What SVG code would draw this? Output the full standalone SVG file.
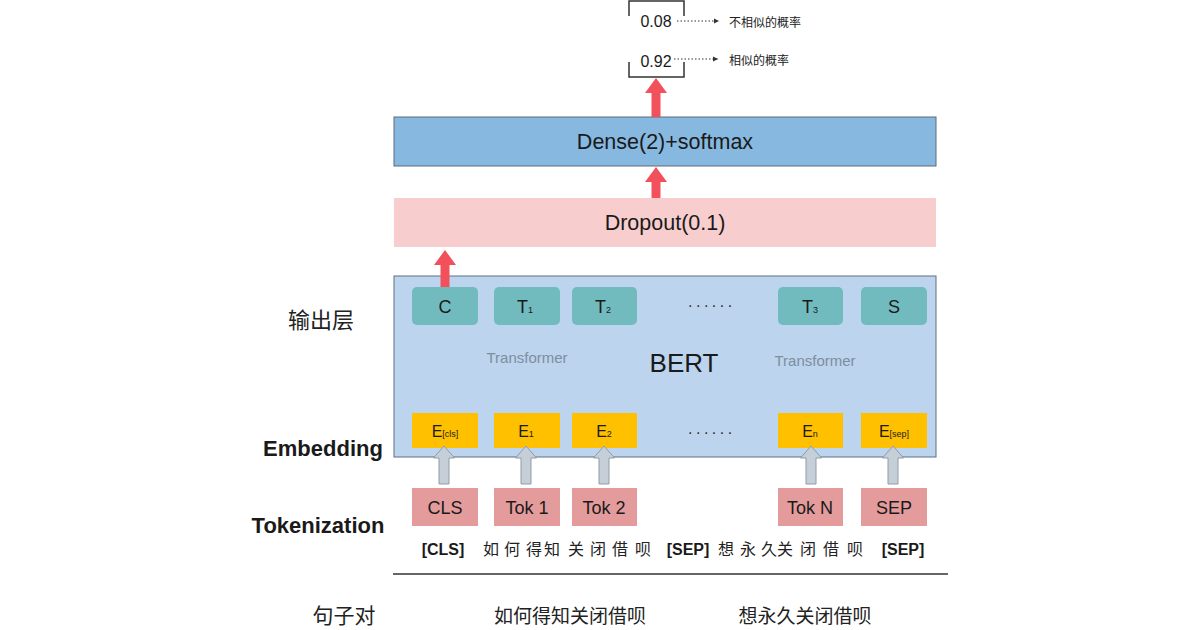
<svg xmlns="http://www.w3.org/2000/svg" width="1200" height="630" viewBox="0 0 1200 630">
<defs>
<style>
.en{font-family:"Liberation Sans",Arial,sans-serif;fill:#1a1a1a}
.cn{font-family:"Noto Sans CJK SC",sans-serif;fill:#222}
.tbox{fill:#71bbbf}
.ebox{fill:#ffc000}
.kbox{fill:#e49b9b}
.red{fill:#f2505a}
.gray{fill:#c6cfd7;stroke:#8e9ca8;stroke-width:1}
.dot{stroke:#333;stroke-width:1;stroke-dasharray:1.5 2;fill:none}
.brk{stroke:#333;stroke-width:1.5;fill:none}
.ell{font-family:"Liberation Sans",Arial,sans-serif;fill:#333;font-size:16px;letter-spacing:3.5px}
</style>
<marker id="ah" markerWidth="6" markerHeight="6" refX="5" refY="3" orient="auto" markerUnits="userSpaceOnUse">
<path d="M0,0.5 L5,3 L0,5.5 Z" fill="#333"/>
</marker>
</defs>
<rect width="1200" height="630" fill="#fff"/>

<g id="output-probs">
<path class="brk" d="M629,16 V1 H684 V16"/>
<path class="brk" d="M629,62 V77 H684 V62"/>
<text class="en" x="656" y="27" font-size="16" text-anchor="middle">0.08</text>
<text class="en" x="656" y="67" font-size="16" text-anchor="middle">0.92</text>
<text class="cn" x="729" y="27" font-size="12">不相似的概率</text>
<text class="cn" x="729" y="65" font-size="12">相似的概率</text>
</g>

<g id="dense">
<rect x="394" y="117" width="542" height="49" fill="#86b8e0" stroke="#5c6b7a" stroke-width="1"/>
<text class="en" x="665" y="149" font-size="21.5" text-anchor="middle">Dense(2)+softmax</text>
</g>

<g id="dropout">
<rect x="394" y="198" width="542" height="49" fill="#f8cdcd"/>
<text class="en" x="665" y="230" font-size="21.5" text-anchor="middle">Dropout(0.1)</text>
</g>

<g id="bert">
<rect x="394" y="276" width="542" height="181" fill="#bcd4ee" stroke="#5f6f80" stroke-width="1"/>
<text class="en" x="684" y="372" font-size="26" text-anchor="middle">BERT</text>
<text class="en" x="527" y="363" font-size="15" text-anchor="middle" style="fill:#7d8ea0">Transformer</text>
<text class="en" x="815" y="366" font-size="15" text-anchor="middle" style="fill:#7d8ea0">Transformer</text>
<text class="ell" x="688" y="307">......</text>
<text class="ell" x="688" y="434">......</text>
</g>

<g id="out-C"><rect class="tbox" x="412" y="287" width="66" height="38" rx="5"/><text class="en" x="445" y="313" font-size="18" text-anchor="middle">C</text></g>
<g id="out-T1"><rect class="tbox" x="494" y="287" width="66" height="38" rx="5"/><text class="en" x="525" y="313" font-size="18" text-anchor="middle">T<tspan font-size="9">1</tspan></text></g>
<g id="out-T2"><rect class="tbox" x="572" y="287" width="65" height="38" rx="5"/><text class="en" x="603" y="313" font-size="18" text-anchor="middle">T<tspan font-size="9">2</tspan></text></g>
<g id="out-T3"><rect class="tbox" x="778" y="287" width="65" height="38" rx="5"/><text class="en" x="810" y="313" font-size="18" text-anchor="middle">T<tspan font-size="9">3</tspan></text></g>
<g id="out-S"><rect class="tbox" x="861" y="287" width="66" height="38" rx="5"/><text class="en" x="894" y="313" font-size="18" text-anchor="middle">S</text></g>

<g id="emb-cls"><rect class="ebox" x="412" y="413" width="66" height="35"/><text class="en" x="445" y="437" font-size="16" text-anchor="middle">E<tspan font-size="9">[cls]</tspan></text></g>
<g id="emb-1"><rect class="ebox" x="494" y="413" width="66" height="35"/><text class="en" x="526" y="437" font-size="16" text-anchor="middle">E<tspan font-size="9">1</tspan></text></g>
<g id="emb-2"><rect class="ebox" x="572" y="413" width="65" height="35"/><text class="en" x="604" y="437" font-size="16" text-anchor="middle">E<tspan font-size="9">2</tspan></text></g>
<g id="emb-n"><rect class="ebox" x="778" y="413" width="65" height="35"/><text class="en" x="810" y="437" font-size="16" text-anchor="middle">E<tspan font-size="9">n</tspan></text></g>
<g id="emb-sep"><rect class="ebox" x="861" y="413" width="66" height="35"/><text class="en" x="894" y="437" font-size="16" text-anchor="middle">E<tspan font-size="9">[sep]</tspan></text></g>

<g id="tok-cls"><rect class="kbox" x="412" y="488" width="66" height="38"/><text class="en" x="445" y="514" font-size="18" text-anchor="middle">CLS</text></g>
<g id="tok-1"><rect class="kbox" x="494" y="488" width="66" height="38"/><text class="en" x="527" y="514" font-size="18" text-anchor="middle">Tok 1</text></g>
<g id="tok-2"><rect class="kbox" x="572" y="488" width="65" height="38"/><text class="en" x="604" y="514" font-size="18" text-anchor="middle">Tok 2</text></g>
<g id="tok-n"><rect class="kbox" x="778" y="488" width="65" height="38"/><text class="en" x="810" y="514" font-size="18" text-anchor="middle">Tok N</text></g>
<g id="tok-sep"><rect class="kbox" x="861" y="488" width="66" height="38"/><text class="en" x="894" y="514" font-size="18" text-anchor="middle">SEP</text></g>

<g id="connectors">
<path class="red" d="M656,78 L667,93 L660.5,93 L660.5,117 L651.5,117 L651.5,93 L645,93 Z"/>
<path class="red" d="M656,167 L667,182 L660.5,182 L660.5,198 L651.5,198 L651.5,182 L645,182 Z"/>
<path class="red" d="M445,250 L456,265 L449.5,265 L449.5,287 L440.5,287 L440.5,265 L434,265 Z"/>
<path class="gray" d="M444,446 L454.5,458 L449,458 L449,484 L439,484 L439,458 L433.5,458 Z"/>
<path class="gray" d="M526,446 L536.5,458 L531,458 L531,484 L521,484 L521,458 L515.5,458 Z"/>
<path class="gray" d="M604,446 L614.5,458 L609,458 L609,484 L599,484 L599,458 L593.5,458 Z"/>
<path class="gray" d="M811,446 L821.5,458 L816,458 L816,484 L806,484 L806,458 L800.5,458 Z"/>
<path class="gray" d="M893,446 L903.5,458 L898,458 L898,484 L888,484 L888,458 L882.5,458 Z"/>
<line class="dot" x1="677" y1="21" x2="719" y2="21" marker-end="url(#ah)"/>
<line class="dot" x1="674" y1="59" x2="718" y2="59" marker-end="url(#ah)"/>
</g>

<g id="labels">
<text class="cn" x="321" y="328" font-size="22" text-anchor="middle">输出层</text>
<text class="en" x="323" y="456" font-size="22" font-weight="bold" text-anchor="middle">Embedding</text>
<text class="en" x="318" y="533" font-size="22" font-weight="bold" text-anchor="middle">Tokenization</text>
</g>

<g id="token-row" font-size="16">
<text class="en" x="443" y="555" font-size="16" font-weight="bold" text-anchor="middle">[CLS]</text>
<text class="cn" x="491" y="555" text-anchor="middle">如</text>
<text class="cn" x="512" y="555" text-anchor="middle">何</text>
<text class="cn" x="534" y="555" text-anchor="middle">得</text>
<text class="cn" x="552" y="555" text-anchor="middle">知</text>
<text class="cn" x="576" y="555" text-anchor="middle">关</text>
<text class="cn" x="598" y="555" text-anchor="middle">闭</text>
<text class="cn" x="620" y="555" text-anchor="middle">借</text>
<text class="cn" x="643" y="555" text-anchor="middle">呗</text>
<text class="en" x="688" y="555" font-size="16" font-weight="bold" text-anchor="middle">[SEP]</text>
<text class="cn" x="726" y="555" text-anchor="middle">想</text>
<text class="cn" x="748" y="555" text-anchor="middle">永</text>
<text class="cn" x="769" y="555" text-anchor="middle">久</text>
<text class="cn" x="785" y="555" text-anchor="middle">关</text>
<text class="cn" x="808" y="555" text-anchor="middle">闭</text>
<text class="cn" x="831" y="555" text-anchor="middle">借</text>
<text class="cn" x="855" y="555" text-anchor="middle">呗</text>
<text class="en" x="903" y="555" font-size="16" font-weight="bold" text-anchor="middle">[SEP]</text>
</g>

<line x1="393" y1="574" x2="948" y2="574" stroke="#333" stroke-width="1.5"/>

<g id="sentence-pair">
<text class="cn" x="344" y="623" font-size="21" text-anchor="middle">句子对</text>
<text class="cn" x="570" y="623" font-size="19" text-anchor="middle">如何得知关闭借呗</text>
<text class="cn" x="805" y="623" font-size="19" text-anchor="middle">想永久关闭借呗</text>
</g>
</svg>
